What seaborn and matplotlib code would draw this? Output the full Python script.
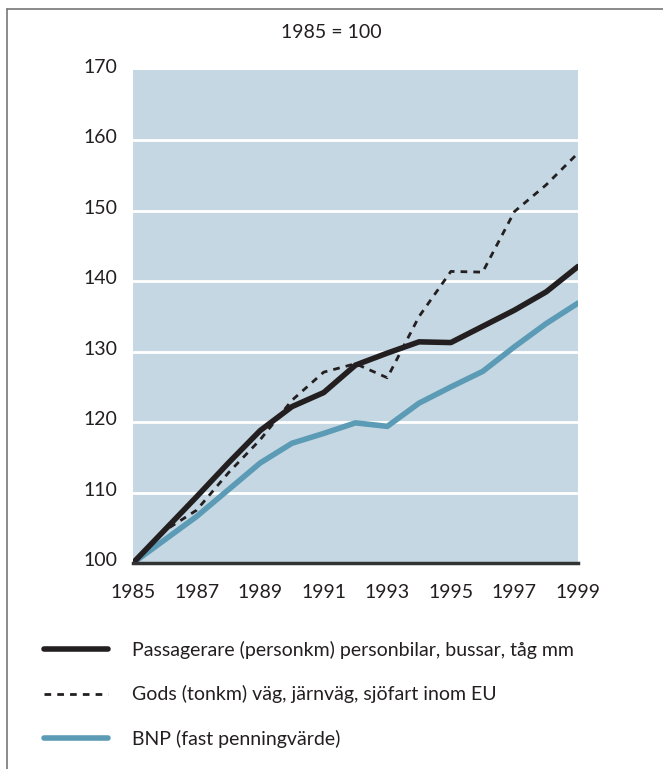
import matplotlib
matplotlib.use("Agg")
import matplotlib.pyplot as plt
import matplotlib.transforms as mtransforms
import seaborn as sns
import pandas as pd

# -----------------------------
# Data (index, 1985 = 100)
# -----------------------------
years = list(range(1985, 2000))
passagerare = [100, 104.7, 109.4, 114.2, 118.8, 122.2, 124.2, 128.1, 129.8,
               131.4, 131.3, 133.6, 135.9, 138.5, 142.1]
gods = [100, 104.6, 107.5, 112.8, 117.5, 123.1, 127.1, 128.3, 126.3,
        135.0, 141.4, 141.3, 149.9, 153.7, 158.2]
bnp = [100, 103.3, 106.6, 110.4, 114.2, 117.0, 118.4, 119.9, 119.4,
       122.7, 125.0, 127.2, 130.7, 134.0, 136.9]

labels = ["Passagerare (personkm) personbilar, bussar, tåg mm",
          "Gods (tonkm) väg, järnväg, sjöfart inom EU",
          "BNP (fast penningvärde)"]
xticks = list(range(1985, 2000, 2))
yticks = list(range(100, 171, 10))

df = pd.DataFrame({"year": years, labels[0]: passagerare,
                   labels[1]: gods, labels[2]: bnp})

sns.set_theme(style="white")
plt.rcParams["font.family"] = ["Lato", "DejaVu Sans"]

fig = plt.figure(figsize=(6.63, 7.69), dpi=100)
ax = fig.add_axes([133 / 663, 1 - 563 / 769, 445 / 663, 493 / 769])
ax.set_facecolor("#c5d7e2")

sns.lineplot(data=df, x="year", y=labels[2], ax=ax, color="#5b9bb5",
             linewidth=4, label=labels[2])
sns.lineplot(data=df, x="year", y=labels[1], ax=ax, color="#231f20",
             linewidth=2, linestyle=(0, (2.4, 2.2)), label=labels[1])
sns.lineplot(data=df, x="year", y=labels[0], ax=ax, color="#231f20",
             linewidth=4, label=labels[0])

ax.set_xlim(1985, 1999)
ax.set_ylim(100, 170)
ax.set_xticks(xticks)
ax.set_yticks(yticks)
ax.set_xlabel("")
ax.set_ylabel("")
for y in yticks[1:-1]:
    ax.axhline(y, color="white", linewidth=2, zorder=1)

for side in ["top", "right", "left"]:
    ax.spines[side].set_visible(False)
ax.spines["bottom"].set_color("#333333")
ax.spines["bottom"].set_linewidth(2.5)
ax.tick_params(axis="both", length=0, labelsize=14, colors="#231f20")
ax.tick_params(axis="y", pad=11)
ax.tick_params(axis="x", pad=15)
offset = mtransforms.ScaledTranslation(0, 4 / 100, fig.dpi_scale_trans)
for lab in ax.get_yticklabels():
    lab.set_transform(lab.get_transform() + offset)

fig.text(0.5, 1 - 33 / 769, "1985 = 100", ha="center", va="center",
         fontsize=14, color="#231f20")

ax.get_legend().remove()
handles, labs = ax.get_legend_handles_labels()
order = [2, 1, 0]
fig.legend([handles[i] for i in order], [labs[i] for i in order],
           loc="upper left", bbox_to_anchor=(44 / 663, 1 - 641 / 769),
           frameon=False, fontsize=14, handlelength=3.3, handletextpad=1.2,
           labelspacing=1.35, borderpad=0, borderaxespad=0,
           labelcolor="#231f20")

# thin frame (top and left)
fig.add_artist(plt.Line2D([7 / 663, 1], [1 - 9 / 769, 1 - 9 / 769],
                          color="#777777", linewidth=1.2))
fig.add_artist(plt.Line2D([7 / 663, 7 / 663], [0, 1 - 9 / 769],
                          color="#777777", linewidth=1.2))

fig.savefig("out.png", dpi=100)
